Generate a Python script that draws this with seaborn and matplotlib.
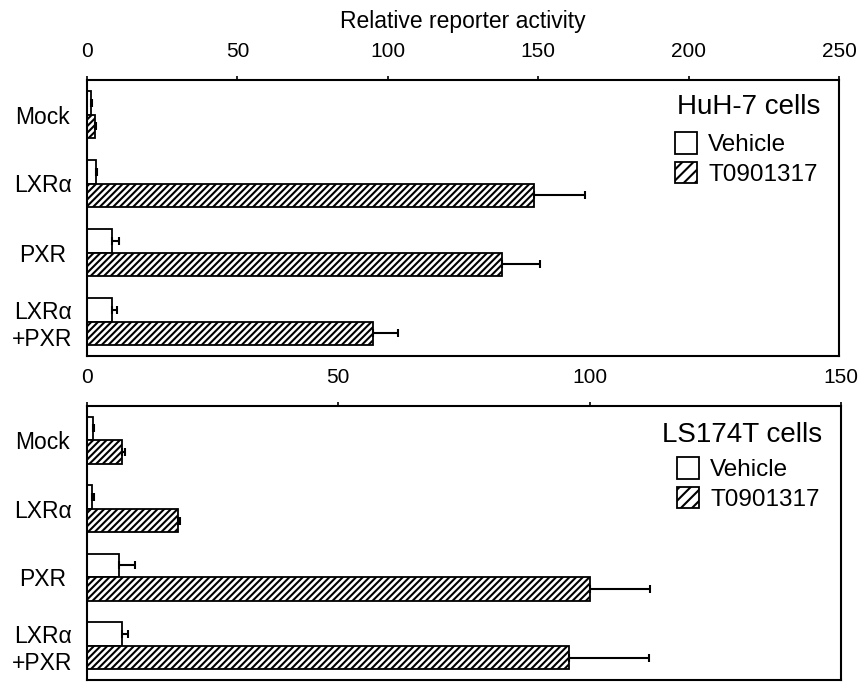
import matplotlib
matplotlib.use("Agg")
import matplotlib.pyplot as plt
import seaborn as sns
import pandas as pd
import numpy as np
from matplotlib.patches import Patch

# ---------------- data ----------------
constructs = ["Mock", "LXRα", "PXR", "LXRα\n+PXR"]
treatments = ["Vehicle", "T0901317"]

huh7_vehicle = [1.2, 3.0, 8.2, 8.4]
huh7_vehicle_err = [0.3, 0.3, 2.4, 1.7]
huh7_t0901317 = [2.5, 148.5, 138.0, 95.0]
huh7_t0901317_err = [0.5, 17.0, 12.5, 8.5]

ls174t_vehicle = [1.1, 1.0, 6.4, 6.9]
ls174t_vehicle_err = [0.3, 0.4, 3.1, 1.3]
ls174t_t0901317 = [7.0, 18.2, 100.0, 95.8]
ls174t_t0901317_err = [0.6, 0.4, 12.0, 16.0]

huh7_ticks = [0, 50, 100, 150, 200, 250]
ls174t_ticks = [0, 50, 100, 150]

xlabel_text = "Relative reporter activity"
huh7_title = "HuH-7 cells"
ls174t_title = "LS174T cells"

# ---------------- style ----------------
sns.set_style("white")
plt.rcParams["font.family"] = ["Liberation Sans", "DejaVu Sans"]
plt.rcParams["text.color"] = "black"
plt.rcParams["axes.labelcolor"] = "black"
plt.rcParams["hatch.linewidth"] = 1.5
plt.rcParams["hatch.color"] = "black"

HATCH = "/////"
W, H = 864, 683
fig = plt.figure(figsize=(W / 100, H / 100), dpi=100)


def px_axes(left, top, right, bottom):
    return fig.add_axes([left / W, 1 - bottom / H, (right - left) / W, (bottom - top) / H])


ax1 = px_axes(87, 80, 839, 356)
ax2 = px_axes(87, 406, 841, 680)


def draw(ax, veh, veh_err, trt, trt_err, ticks, title, title_y_px, leg_top_px):
    df = pd.DataFrame({
        "construct": constructs * 2,
        "treatment": [treatments[0]] * len(constructs) + [treatments[1]] * len(constructs),
        "value": list(veh) + list(trt),
    })
    sns.barplot(data=df, y="construct", x="value", hue="treatment",
                order=constructs, hue_order=treatments, orient="h",
                palette={treatments[0]: "white", treatments[1]: "white"},
                saturation=1, edgecolor="black", linewidth=1.3, width=0.69,
                errorbar=None, legend=False, ax=ax)
    bar_conts = list(ax.containers)
    for b in bar_conts[1]:
        b.set_hatch(HATCH)
    for cont, err in zip(bar_conts, [veh_err, trt_err]):
        ys = [b.get_y() + b.get_height() / 2 for b in cont]
        xs = [b.get_width() for b in cont]
        ax.errorbar(xs, ys, xerr=[np.zeros(len(err)), err], fmt="none",
                    ecolor="black", elinewidth=1.5, capsize=3, capthick=1.5, zorder=5)

    ax.set_xlim(ticks[0], ticks[-1])
    ax.set_ylim(len(constructs) - 0.5, -0.5)
    ax.set_xticks(ticks)
    ax.xaxis.tick_top()
    ax.tick_params(axis="x", which="both", top=True, bottom=False, direction="out",
                   length=3, width=1.2, pad=11, labelsize=15, colors="black")
    ax.tick_params(axis="y", left=False, length=0, pad=32, labelsize=16.5, colors="black")
    for lab in ax.get_yticklabels():
        lab.set_ha("center")
        lab.set_multialignment("center")
    ax.set_ylabel("")
    ax.set_xlabel("")
    for s in ax.spines.values():
        s.set_visible(True)
        s.set_color("black")
        s.set_linewidth(1.5)

    axh = ax.get_window_extent().height
    axw = ax.get_window_extent().width
    ax.text(1 - 19 / axw, 1 - title_y_px / axh, title, transform=ax.transAxes,
            ha="right", va="center", fontsize=20, color="black")

    handles = [
        Patch(facecolor="white", edgecolor="black", linewidth=1.3, label=treatments[0]),
        Patch(facecolor="white", edgecolor="black", linewidth=1.3, hatch="///", label=treatments[1]),
    ]
    ax.legend(handles=handles, fontsize=17.5,
              frameon=False, loc="upper left",
              bbox_to_anchor=(1 - 164 / axw, 1 - leg_top_px / axh),
              handlelength=0.92, handleheight=1.0, handletextpad=0.45,
              labelspacing=0.22, borderpad=0, borderaxespad=0)
    return ax


draw(ax1, huh7_vehicle, huh7_vehicle_err, huh7_t0901317, huh7_t0901317_err,
     huh7_ticks, huh7_title, 27, 52)
draw(ax2, ls174t_vehicle, ls174t_vehicle_err, ls174t_t0901317, ls174t_t0901317_err,
     ls174t_ticks, ls174t_title, 29, 51)

ax1.xaxis.set_label_position("top")
ax1.set_xlabel(xlabel_text, fontsize=16.5, labelpad=10)

fig.savefig("out.png", dpi=100)
